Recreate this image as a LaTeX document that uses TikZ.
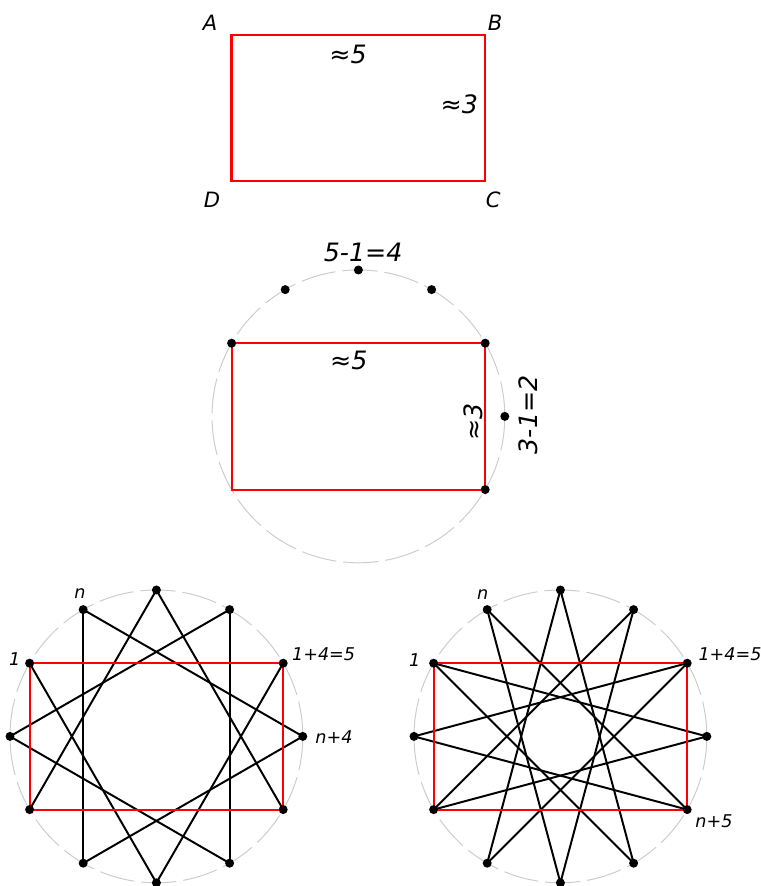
\documentclass[tikz,border=0pt]{standalone}
\usepackage{fontspec}
\setmainfont{DejaVu Sans}

\begin{document}
\begin{tikzpicture}[
  every node/.style={font=\itshape},
  guide/.style={draw=gray!40, line width=0.7pt, dash pattern=on 25pt off 5pt},
  redbox/.style={draw=red, line width=1.4pt},
  bigbox/.style={draw=red, line width=1.6pt},
  chord/.style={draw=black, line width=1.4pt},
  big/.style={font=\itshape\fontsize{18}{21}\selectfont},
  corner/.style={font=\itshape\fontsize{15}{18}\selectfont},
  small/.style={font=\itshape\fontsize{12.5}{15}\selectfont}
]
\useasboundingbox (0,0) rectangle (19,22.15);

% Top: the rectangle alone
\coordinate (A) at (5.79,21.28);
\coordinate (B) at (12.13,21.28);
\coordinate (C) at (12.13,17.62);
\coordinate (D) at (5.79,17.62);
\draw[bigbox] (A) -- (B) -- (C) -- (D) -- cycle;

\node[corner] (labA) at (5.25,21.58) {A};
\node[corner] (labB) at (12.38,21.58) {B};
\node[corner] (labC) at (12.33,17.15) {C};
\node[corner] (labD) at (5.30,17.15) {D};
\node[big] (wA) at (8.70,20.78) {≈5};
\node[big] (hA) at (11.48,19.53) {≈3};

% Middle: rectangle in its circle
\begin{scope}[shift={(8.96,11.74)}]
  \draw[guide] (0,0) circle (3.66);
  \foreach \a in {0,30,...,330}
    \coordinate (m\a) at (\a:3.66);
  \draw[redbox] (m150) -- (m30) -- (m330) -- (m210) -- cycle;
  \foreach \a in {0,30,60,90,120,150,330}
    \fill (m\a) circle (3.2pt);

  \node[big] (top) at (0.12,4.11) {5-1=4};
  \node[big] (wB) at (-0.24,1.41) {≈5};
  \node[big, rotate=90] (hB) at (2.87,-0.14) {≈3};
  \node[big, rotate=90] (side) at (4.24,0.04) {3-1=2};
\end{scope}

% Bottom left: steps of 4
\begin{scope}[shift={(3.91,3.74)}]
  \draw[guide] (0,0) circle (3.66);
  \foreach \a in {0,30,...,330}
    \coordinate (l\a) at (\a:3.66);
  \foreach \a in {0,30,...,330} {
    \pgfmathtruncatemacro\b{mod(\a+120,360)}
    \draw[chord] (l\a) -- (l\b);
  }
  \draw[redbox] (l150) -- (l30) -- (l330) -- (l210) -- cycle;
  \foreach \a in {0,30,...,330}
    \fill (l\a) circle (3.2pt);

  \node[small] (ln) at (-1.91,3.56) {n};
  \node[small] (l1) at (-3.54,1.94) {1};
  \node[small] (l5) at (4.18,2.06) {1+4=5};
  \node[small] (ln4) at (4.44,-0.01) {n+4};
\end{scope}

% Bottom right: steps of 5
\begin{scope}[shift={(14.01,3.74)}]
  \draw[guide] (0,0) circle (3.66);
  \foreach \a in {0,30,...,330}
    \coordinate (r\a) at (\a:3.66);
  \foreach \a in {0,30,...,330} {
    \pgfmathtruncatemacro\b{mod(\a+150,360)}
    \draw[chord] (r\a) -- (r\b);
  }
  \draw[redbox] (r150) -- (r30) -- (r330) -- (r210) -- cycle;
  \foreach \a in {0,30,...,330}
    \fill (r\a) circle (3.2pt);

  \node[small] (rn) at (-1.94,3.54) {n};
  \node[small] (r1) at (-3.64,1.91) {1};
  \node[small] (r5) at (4.24,2.06) {1+4=5};
  \node[small] (rn5) at (3.84,-2.13) {n+5};
\end{scope}

\end{tikzpicture}
\end{document}
